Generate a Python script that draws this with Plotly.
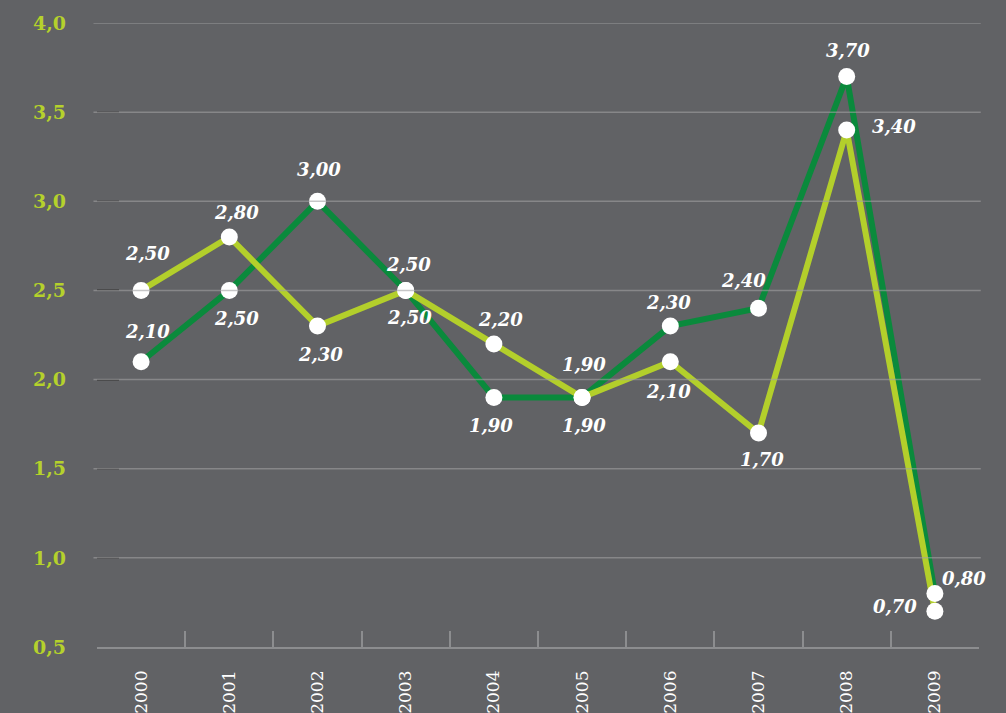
import plotly.graph_objects as go

years = ["2000", "2001", "2002", "2003", "2004", "2005", "2006", "2007", "2008", "2009"]
dark_vals = [2.10, 2.50, 3.00, 2.50, 1.90, 1.90, 2.30, 2.40, 3.70, 0.80]
light_vals = [2.50, 2.80, 2.30, 2.50, 2.20, 1.90, 2.10, 1.70, 3.40, 0.70]
y_ticks = [0.5, 1.0, 1.5, 2.0, 2.5, 3.0, 3.5, 4.0]
y_tick_text = ["0,5", "1,0", "1,5", "2,0", "2,5", "3,0", "3,5", "4,0"]

# label offsets in pixels (xshift, yshift)
dark_off = [(6, 30), (7, -28), (1, 32), (4, -27), (-3, -28), (2, -28), (-2, 24), (-15, 28), (1, 26), (29, 15)]
light_off = [(6, 37), (7, 24), (3, -28), (3, 26), (7, 24), (2, 33), (-2, -30), (3, -26), (47, 3), (-40, 5)]

BG = "#616265"
DARK = "#0a8a3c"
LIGHT = "#b3cf2b"
SERIF = "DejaVu Serif"

fig = go.Figure()
fig.add_trace(go.Scatter(x=years, y=dark_vals, mode="lines",
                         line=dict(color=DARK, width=6), hoverinfo="skip", showlegend=False))
fig.add_trace(go.Scatter(x=years, y=light_vals, mode="lines",
                         line=dict(color=LIGHT, width=6), hoverinfo="skip", showlegend=False))
fig.add_trace(go.Scatter(x=years + years, y=dark_vals + light_vals, mode="markers",
                         marker=dict(color="white", size=17, line=dict(width=0)),
                         showlegend=False))

def fmt(v):
    return f"{v:.2f}".replace(".", ",")

for vals, offs in ((dark_vals, dark_off), (light_vals, light_off)):
    for i, (v, (dx, dy)) in enumerate(zip(vals, offs)):
        fig.add_annotation(x=i, y=v, text=fmt(v), showarrow=False,
                           xshift=dx, yshift=dy,
                           font=dict(family=SERIF, size=18, color="white",
                                     weight="bold", style="italic"))

for t in y_ticks[1:]:
    fig.add_shape(type="line", xref="paper", yref="y", x0=-0.004, x1=1.002, y0=t, y1=t,
                  line=dict(color="rgba(160,160,162,0.6)", width=1.5), layer="above")

fig.update_layout(
    width=1006, height=713,
    paper_bgcolor=BG, plot_bgcolor=BG,
    margin=dict(l=97, r=27, t=23, b=66, autoexpand=False),
    showlegend=False,
)
fig.update_xaxes(
    type="category", range=[-0.5, len(years) - 0.5], showgrid=False, automargin=False,
    showline=True, linecolor="#8c8d8f", linewidth=1.5,
    ticks="inside", tickson="boundaries", ticklen=16, tickcolor="#8c8d8f", tickwidth=1.5,
    tickangle=-90, ticklabelstandoff=15,
    tickfont=dict(family=SERIF, size=17, color="white"),
)
fig.update_yaxes(
    range=[0.5, 4.0], tickvals=y_ticks, ticktext=y_tick_text, automargin=False,
    showgrid=False, zeroline=False, showline=False,
    ticks="inside", ticklen=22, tickcolor="#3c3c3e", tickwidth=1.5,
    ticklabelstandoff=30,
    tickfont=dict(family=SERIF, size=19, color="#b5d12c", weight="bold"),
)

fig.write_html("out.html", config={"displayModeBar": False},
               post_script="document.body.style.margin='0';")
